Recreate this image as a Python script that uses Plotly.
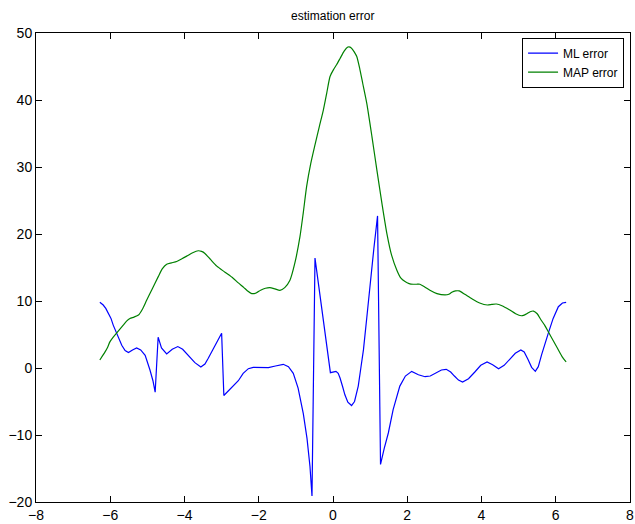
import plotly.graph_objects as go

ml_x = [-6.28, -6.19, -6.12, -6.05, -5.98, -5.92, -5.83, -5.76, -5.69, -5.60, -5.51,
        -5.40, -5.29, -5.18, -5.06, -4.93, -4.85, -4.79,
        -4.71, -4.62, -4.48, -4.33, -4.18, -4.05, -3.90, -3.72, -3.56, -3.45, -3.36,
        -3.27, -3.18, -3.08, -3.00,
        -2.94, -2.81, -2.69, -2.55, -2.42, -2.28, -2.15, -1.95, -1.74, -1.55, -1.34,
        -1.20, -1.07, -0.94, -0.80, -0.70, -0.62, -0.566,
        -0.485, -0.07, 0.00, 0.08, 0.14, 0.19, 0.26, 0.32, 0.40, 0.50, 0.58, 0.68,
        0.75, 0.82, 0.91, 1.00, 1.10, 1.20,
        1.28, 1.38, 1.49, 1.62, 1.80, 1.95, 2.12, 2.30, 2.48, 2.62, 2.77, 2.92, 3.05,
        3.17, 3.27, 3.38, 3.49, 3.65, 3.82, 3.98, 4.15, 4.30, 4.46, 4.61, 4.76, 4.91,
        5.06, 5.15, 5.25, 5.35, 5.45, 5.53, 5.62, 5.71, 5.80, 5.93, 6.07, 6.18, 6.28]
ml_y = [9.8, 9.4, 8.9, 8.2, 7.4, 6.4, 5.2, 4.2, 3.4, 2.6, 2.3,
        2.7, 3.0, 2.7, 1.9, -0.3, -1.9, -3.6,
        4.6, 3.0, 2.1, 2.8, 3.2, 2.8, 1.9, 0.8, 0.15, 0.6, 1.45,
        2.4, 3.3, 4.3, 5.2,
        -4.1, -3.4, -2.8, -1.9, -0.8, -0.1, 0.1, 0.1, 0.05, 0.3, 0.55,
        0.2, -0.8, -3.0, -6.8, -10.5, -14.7, -19.1,
        16.4, -0.7, -0.55, -0.5, -0.8, -1.5, -2.8, -4.0, -5.1, -5.6, -5.0, -2.7,
        0.0, 2.7, 7.5, 12.7, 17.8, 22.7,
        -14.4, -12.0, -9.7, -6.2, -2.7, -1.2, -0.5, -1.0, -1.3, -1.2, -0.75, -0.3, -0.2,
        -0.6, -1.2, -1.8, -2.1, -1.6, -0.6, 0.4, 0.9, 0.5, -0.1, 0.4, 1.3, 2.2,
        2.7, 2.4, 1.3, 0.1, -0.5, 0.2, 2.0, 3.7, 5.2, 7.4, 9.15, 9.7, 9.8]

map_x = [-6.28, -6.21, -6.14, -6.07, -6.01, -5.92, -5.83, -5.74, -5.65, -5.56, -5.47,
         -5.36, -5.24, -5.13, -5.02, -4.87, -4.71, -4.60, -4.48, -4.35, -4.21, -4.07,
         -3.94, -3.78, -3.63, -3.54, -3.45, -3.30, -3.13, -2.91, -2.69, -2.55, -2.40,
         -2.30, -2.19, -2.07, -1.95, -1.82, -1.70, -1.56, -1.43, -1.30, -1.16, -1.03,
         -0.89, -0.80, -0.71, -0.60, -0.485, -0.37, -0.26, -0.17, -0.08, 0.01, 0.10,
         0.19, 0.30, 0.40, 0.46, 0.52, 0.58, 0.64, 0.72, 0.80, 0.91, 1.05, 1.18, 1.32,
         1.45, 1.58, 1.72, 1.83, 1.94, 2.05, 2.16, 2.25, 2.34, 2.47, 2.61, 2.80, 3.02,
         3.12, 3.20, 3.30, 3.40, 3.55, 3.75, 3.95, 4.16, 4.28, 4.40, 4.55, 4.75, 4.92,
         5.07, 5.15, 5.22, 5.31, 5.40, 5.50, 5.60, 5.70, 5.80, 5.93, 6.05, 6.17, 6.28]
map_y = [1.2, 1.8, 2.4, 3.1, 3.9, 4.6, 5.2, 5.8, 6.4, 7.0, 7.4,
         7.6, 7.9, 8.8, 10.1, 11.8, 13.6, 14.8, 15.5, 15.7, 15.9, 16.3,
         16.7, 17.2, 17.5, 17.4, 17.1, 16.2, 15.2, 14.3, 13.4, 12.7, 12.0,
         11.5, 11.1, 11.2, 11.6, 11.9, 12.0, 11.8, 11.6, 12.0, 13.1, 15.6,
         19.6, 23.2, 27.1, 30.5, 33.3, 36.0, 38.5, 41.0, 43.5, 44.5, 45.3,
         46.2, 47.3, 47.9, 47.9, 47.6, 47.1, 46.5, 44.7, 42.5, 39.5, 34.5, 29.6, 24.5,
         20.1, 16.8, 14.6, 13.4, 12.9, 12.6, 12.5, 12.5, 12.5, 12.1, 11.6, 11.1, 10.9,
         11.0, 11.3, 11.5, 11.5, 11.0, 10.3, 9.7, 9.4, 9.5, 9.55, 9.3, 8.7, 8.1,
         7.8, 7.9, 8.1, 8.4, 8.5, 8.1, 7.2, 6.4, 5.4, 4.1, 2.9, 1.7, 0.9]

x_ticks = [-8, -6, -4, -2, 0, 2, 4, 6, 8]
y_ticks = [-20, -10, 0, 10, 20, 30, 40, 50]

FONT = "Liberation Sans Narrow, Liberation Sans, Arial, sans-serif"

fig = go.Figure()
fig.add_trace(go.Scatter(x=ml_x, y=ml_y, mode="lines", name="ML error",
                         line=dict(color="#0000ff", width=1.2)))
fig.add_trace(go.Scatter(x=map_x, y=map_y, mode="lines", name="MAP error",
                         line=dict(color="#008000", width=1.2, shape="spline", smoothing=0.6)))

axis_common = dict(showgrid=False, zeroline=False, showline=True, linecolor="black",
                   linewidth=1, mirror="ticks", ticks="inside", ticklen=6,
                   tickcolor="black", automargin=False,
                   tickfont=dict(family=FONT, size=14, color="black"))

fig.update_layout(
    width=635, height=524,
    margin=dict(l=36, r=5, t=33, b=22),
    paper_bgcolor="white", plot_bgcolor="white",
    title=dict(text="estimation error", x=0.524, xanchor="center", y=0.97, yanchor="middle",
               font=dict(family=FONT, size=12, color="black"), automargin=False),
    xaxis=dict(range=[-8, 8], tickvals=x_ticks, **axis_common),
    yaxis=dict(range=[-20, 50], tickvals=y_ticks, **axis_common),
    legend=dict(x=0.99, y=0.99, xanchor="right", yanchor="top",
                bordercolor="black", borderwidth=1, bgcolor="white",
                font=dict(family=FONT, size=12, color="black"),
                tracegroupgap=0, itemwidth=30),
    showlegend=True,
)

fig.write_html("out.html")
